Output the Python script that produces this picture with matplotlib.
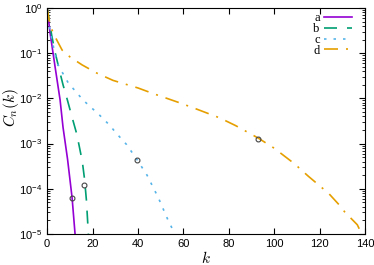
import matplotlib
matplotlib.use('Agg')
import matplotlib.pyplot as plt
from matplotlib.ticker import LogLocator, FuncFormatter, NullFormatter
import numpy as np

plt.rcParams['font.family'] = 'Liberation Sans'
plt.rcParams['mathtext.fontset'] = 'cm'

# curve a (purple, solid)
k_a = [0, 1.3, 3.5, 5.7, 7.0, 9.0, 11.0, 12.3, 12.6]
c_a = [1, 0.28, 0.05, 9.3e-3, 2.3e-3, 4.5e-4, 6.3e-5, 1e-5, 5e-6]
# curve b (green, long dashes)
k_b = [0, 1, 2, 3.5, 5.5, 7, 9, 11, 13, 14, 15.5, 16.5, 17.3, 18, 18.5]
c_b = [1, 0.52, 0.25, 0.105, 0.04, 0.02, 8.9e-3, 3.8e-3, 1.66e-3, 9.5e-4,
       4e-4, 1.6e-4, 5.6e-5, 1.4e-5, 5e-6]
# curve c (light blue, dotted)
k_c = [0, 1.3, 4.4, 9.3, 15.9, 23, 27.7, 30, 35, 39.6, 44, 49, 53.3, 55.5, 57.5]
c_c = [1, 0.3, 0.06, 0.022, 9.1e-3, 4.3e-3, 2.5e-3, 1.8e-3, 9.5e-4, 4.4e-4,
       2e-4, 6.3e-5, 2e-5, 1.2e-5, 5e-6]
# curve d (orange, dash-dot)
k_d = [0, 1, 2.6, 6.6, 10, 15.4, 22, 29, 40, 47, 58.6, 66, 76, 83, 93, 100,
       109, 115, 124, 129, 131, 136.6, 139]
c_d = [1, 0.5, 0.28, 0.117, 0.083, 0.055, 0.036, 0.025, 0.017, 0.0126, 7.9e-3,
       5.75e-3, 3.7e-3, 2.5e-3, 1.32e-3, 7.9e-4, 3.55e-4, 1.9e-4, 7.9e-5,
       4.2e-5, 3.1e-5, 1.6e-5, 9e-6]

# open circle markers
mk_k = [11.0, 16.3, 39.6, 93.0]
mk_c = [6.2e-5, 1.2e-4, 4.4e-4, 1.26e-3]

labels = ['a', 'b', 'c', 'd']
colors = ['#9400D3', '#009E73', '#56B4E9', '#E69F00']

fig = plt.figure(figsize=(3.74, 2.65), dpi=100)
ax = fig.add_axes([0.126, 0.117, 0.85, 0.853])

lw = 1.2
ax.plot(k_a, c_a, color=colors[0], lw=lw, label=labels[0])
ax.plot(k_b, c_b, color=colors[1], lw=lw, dashes=(7.8, 6), label=labels[1])
ax.plot(k_c, c_c, color=colors[2], lw=lw, dashes=(1.5, 4.2), label=labels[2])
ax.plot(k_d, c_d, color=colors[3], lw=lw, dashes=(8.4, 4.8, 1.2, 4.8), label=labels[3])
ax.plot(mk_k, mk_c, 'o', mfc='none', mec='#444444', ms=3.5, mew=0.8)

ax.set_yscale('log')
ax.set_xlim(0, 140)
ax.set_ylim(1e-5, 1)
ax.set_xticks(np.arange(0, 141, 20))
ax.yaxis.set_major_locator(LogLocator(base=10, numticks=10))
ax.yaxis.set_minor_locator(LogLocator(base=10, subs=np.arange(2, 10), numticks=10))
ax.yaxis.set_minor_formatter(NullFormatter())
ax.yaxis.set_major_formatter(FuncFormatter(
    lambda v, p: r'$\mathregular{10^{%d}}$' % int(round(np.log10(v)))))
ax.tick_params(which='both', direction='in', top=True, right=True, labelsize=8)
ax.tick_params(which='major', length=4.5)
ax.tick_params(which='minor', length=2.5)

ax.set_xlabel(r'$k$', fontsize=11, labelpad=1)
ax.set_ylabel(r'$C_n(k)$', fontsize=11)
ax.yaxis.set_label_coords(-0.082, 0.56)

ax.legend(loc='upper right', bbox_to_anchor=(0.96, 0.98), frameon=False,
          markerfirst=False, prop={'family': 'Liberation Serif', 'size': 9},
          handlelength=2.3, handletextpad=0.3, labelspacing=-0.1,
          borderaxespad=0.0, borderpad=0.0)

plt.savefig('out.png', dpi=100)
